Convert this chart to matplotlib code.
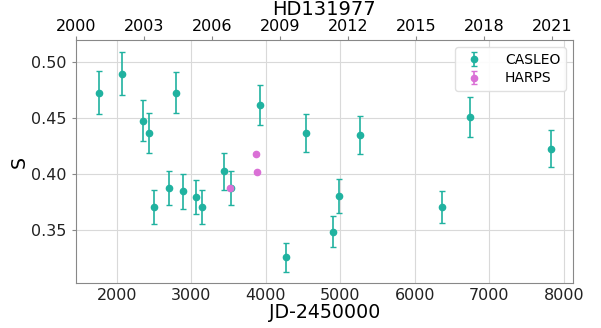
import matplotlib
matplotlib.use('Agg')
import matplotlib.pyplot as plt
import numpy as np

# datos CASLEO (JD-2450000, S, error)
jd_casleo = [1763, 2075, 2349, 2437, 2505, 2697, 2791, 2885, 3060, 3149, 3435,
             3533, 3922, 4271, 4539, 4897, 4982, 5264, 6359, 6739, 7822]
s_casleo = [0.473, 0.490, 0.448, 0.437, 0.371, 0.388, 0.473, 0.385, 0.380, 0.371, 0.403,
            0.388, 0.462, 0.326, 0.437, 0.349, 0.381, 0.435, 0.371, 0.451, 0.423]
err_casleo = [0.019, 0.019, 0.018, 0.0177, 0.015, 0.015, 0.0185, 0.0155, 0.015, 0.015, 0.0165,
              0.015, 0.018, 0.013, 0.0172, 0.0137, 0.015, 0.017, 0.0145, 0.0177, 0.0167]

# datos HARPS
jd_harps = [3520, 3868, 3882]
s_harps = [0.388, 0.418, 0.402]
err_harps = [0.001, 0.001, 0.001]

anios = [2000, 2003, 2006, 2009, 2012, 2015, 2018, 2021]

fig = plt.figure(figsize=(6.01, 3.28), dpi=100)
ax = fig.add_axes([0.126, 0.137, 0.827, 0.741])

ax.errorbar(jd_casleo, s_casleo, yerr=err_casleo, fmt='o', color='#20b2a0',
            ms=4.5, capsize=2, elinewidth=1.2, label='CASLEO', zorder=3)
ax.errorbar(jd_harps, s_harps, yerr=err_harps, fmt='o', color='orchid',
            ms=4.5, capsize=2, elinewidth=1.2, label='HARPS', zorder=3)

ax.set_xlim(1450, 8120)
ax.set_ylim(0.303, 0.520)
ax.set_yticks([0.35, 0.40, 0.45, 0.50])
ax.set_xticks([2000, 3000, 4000, 5000, 6000, 7000, 8000])
ax.grid(True, color='#d9d9d9', lw=0.8)
ax.set_axisbelow(True)
ax.tick_params(axis='both', labelsize=11.5, colors='#222222')
ax.tick_params(axis='x', length=0)
ax.tick_params(axis='y', length=3, color='#888888')
for sp in ['left', 'bottom', 'right']:
    ax.spines[sp].set_color('#888888')
ax.spines['top'].set_visible(False)
ax.set_xlabel('JD-2450000', fontsize=13.7, labelpad=0)
ax.set_ylabel('S', fontsize=13.7, labelpad=2)

ax2 = ax.twiny()
ax2.set_xlim(2000, 2021.9)
ax2.set_xticks(anios)
ax2.tick_params(axis='x', labelsize=11.5, length=3, color='#888888', pad=1)
ax2.spines['top'].set_color('#888888')
for sp in ['left', 'bottom', 'right']:
    ax2.spines[sp].set_visible(False)
ax2.set_title('HD131977', fontsize=14, pad=2)

leg = ax.legend(loc='upper right', fontsize=10, framealpha=0.9, edgecolor='#dddddd',
                borderpad=0.4, labelspacing=0.35, handletextpad=1.2)
leg.set_zorder(5)

fig.savefig('out.png', dpi=100)
